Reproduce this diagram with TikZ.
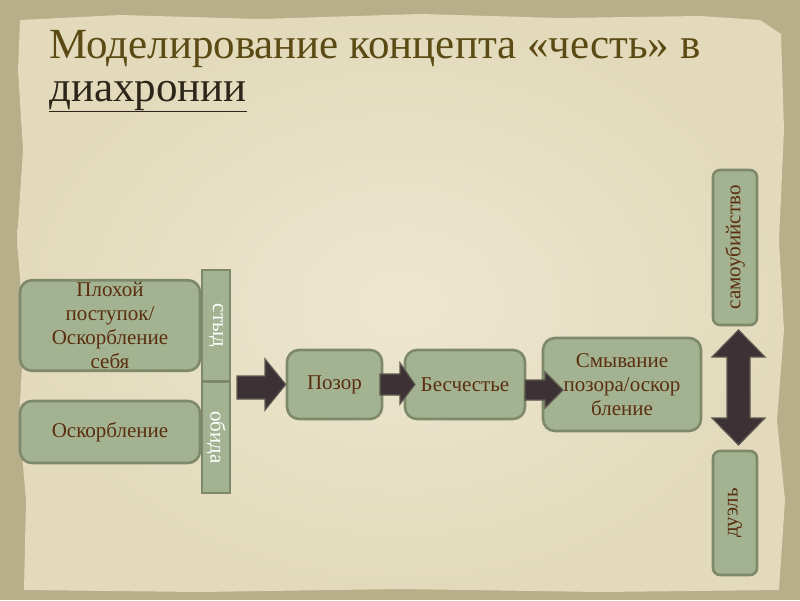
\documentclass[tikz,border=0pt]{standalone}
\usepackage{fontspec}
\setmainfont{Liberation Serif}
\definecolor{outerbg}{HTML}{B6AF8A}
\definecolor{paper}{HTML}{E2DABB}
\definecolor{paperlight}{HTML}{EDE7D0}
\definecolor{sage}{HTML}{A3B391}
\definecolor{sageline}{HTML}{7D896A}
\definecolor{brown}{HTML}{5A2E0E}
\definecolor{titlecol}{HTML}{5B4A14}
\definecolor{title2}{HTML}{2B2619}
\definecolor{arrowfill}{HTML}{3C3236}
\definecolor{arrowline}{HTML}{5E5A50}
\begin{document}
\begin{tikzpicture}[x=1pt,y=-1pt,
  box/.style={draw=sageline, line width=2.6pt, fill=sage, rounded corners=12pt,
    text=brown, font=\fontsize{21}{24}\selectfont, align=center, inner sep=2pt},
  vbox/.style={draw=sageline, line width=2.6pt, fill=sage, text=white,
    font=\fontsize{21}{24}\selectfont, inner sep=1pt},
  sidebox/.style={draw=sageline, line width=2.6pt, fill=sage, rounded corners=7pt,
    text=brown, font=\fontsize{21}{24}\selectfont, inner sep=1pt},
  blockarrow/.style={draw=arrowline, line width=1.2pt, fill=arrowfill, line join=miter}
]
\useasboundingbox (0,0) rectangle (800,600);
% background
\fill[outerbg] (0,0) rectangle (800,600);
\shade[inner color=paperlight, outer color=paper] (20,20) -- (120,15) -- (260,19) -- (420,14) -- (560,18) -- (700,16) -- (760,20)
  -- (781,34) -- (784,130) -- (779,240) -- (784,330) -- (777,420) -- (785,500) -- (779,590)
  -- (600,592) -- (400,589) -- (200,592) -- (24,590) -- (26,500) -- (19,420) -- (24,330)
  -- (17,240) -- (23,150) -- (18,70) -- cycle;
% title
\node[anchor=base west, inner sep=0, text=titlecol, font=\fontsize{43}{48}\selectfont]
  (t1) at (49,58) {Моделирование концепта «честь» в};
\node[anchor=base west, inner sep=0, text=title2, font=\fontsize{43}{48}\selectfont]
  (t2) at (49,101) {\underline{диахронии}};
% left boxes
\node[box, minimum width=180pt, minimum height=87pt, text width=176pt] (n1) at (110,325.5)
  {Плохой\\поступок/\\Оскорбление\\себя};
\node[box, minimum width=180pt, minimum height=62pt] (n2) at (110,432) {Оскорбление};
\node[vbox, rotate=-90, minimum width=111pt, minimum height=28pt] (styd) at (216,325.5) {стыд};
\node[vbox, rotate=-90, minimum width=111pt, minimum height=28pt] (obida) at (216,437.5) {обида};
% chain
\node[box, minimum width=95pt, minimum height=69pt] (pozor) at (334.5,384.5) {Позор};
\node[box, minimum width=120pt, minimum height=69pt] (besch) at (465,384.5) {Бесчестье};
\node[box, minimum width=156pt, minimum height=93pt, text width=154pt] (smyv) at (622,384.5)
  {Смывание\\позора/оскор\\бление};
\node[sidebox, rotate=90, minimum width=155pt, minimum height=44pt] (samo) at (735,247.5) {самоубийство};
\node[sidebox, rotate=90, minimum width=124pt, minimum height=44pt] (duel) at (735,513) {дуэль};
% block arrows
\draw[blockarrow] (237,376) -- (265,376) -- (265,359) -- (pozor.west) -- (265,410) -- (265,399) -- (237,399) -- cycle;
\draw[blockarrow] (380,374) -- (400,374) -- (400,363) -- (415,384.5) -- (400,404) -- (400,395) -- (380,395) -- cycle;
\draw[blockarrow] (525,380) -- (545,380) -- (545,372) -- (563,390) -- (545,408) -- (545,400) -- (525,400) -- cycle;
\draw[blockarrow] (738.5,330) -- (765,357) -- (750,357) -- (750,418) -- (765,418) -- (738.5,445)
  -- (712,418) -- (727,418) -- (727,357) -- (712,357) -- cycle;
\end{tikzpicture}
\end{document}
